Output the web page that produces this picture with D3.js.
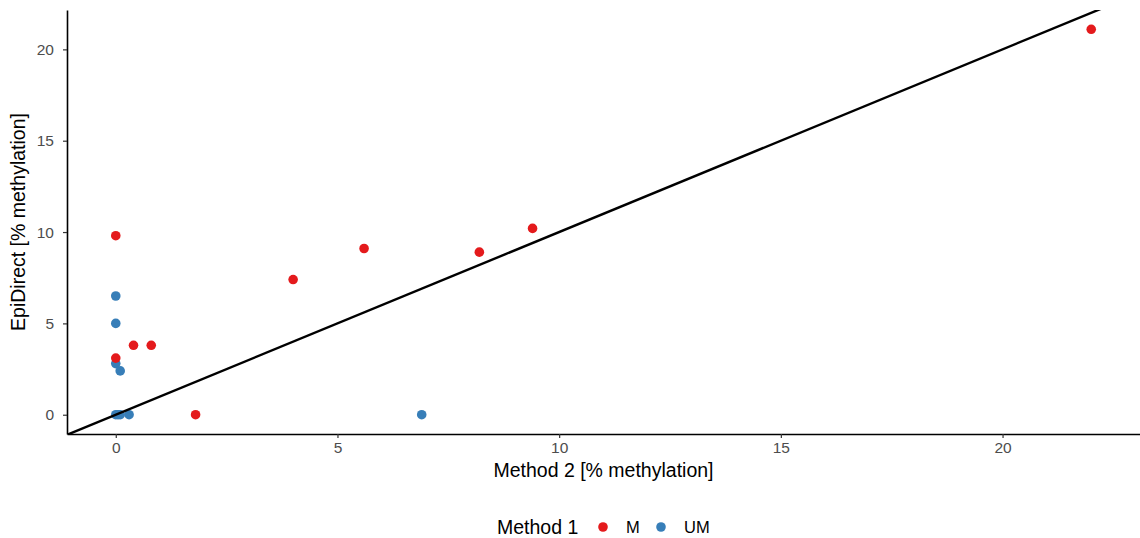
<!DOCTYPE html>
<html>
<head>
<meta charset="utf-8">
<script src="https://cdn.jsdelivr.net/npm/d3@7"></script>
<style>
  body { margin: 0; background: #fff; }
  svg text { font-family: "Liberation Sans", Arial, sans-serif; }
</style>
</head>
<body>
<div id="plot"></div>
<script>
// values
const groups = ["M", "UM"];
const groupColors = ["#E41A1C", "#377EB8"];

const umMethod2 = [0, 0, 0, 0.1, 0, 0.05, 0.1, 0.3, 6.9];
const umEpi     = [6.5, 5.0, 2.8, 2.4, 0, 0, 0, 0, 0];

const mMethod2 = [22, 9.4, 8.2, 5.6, 4.0, 0.8, 0.4, 0, 0, 1.8];
const mEpi     = [21.1, 10.2, 8.9, 9.1, 7.4, 3.8, 3.8, 3.1, 9.8, 0];

const xTicks = [0, 5, 10, 15, 20];
const yTicks = [0, 5, 10, 15, 20];

const width = 1140, height = 538;
const margin = {top: 10, right: 0, bottom: 104, left: 67};

const points = [];
umMethod2.forEach((v, i) => points.push({group: "UM", x: v, y: umEpi[i]}));
mMethod2.forEach((v, i) => points.push({group: "M", x: v, y: mEpi[i]}));

const color = d3.scaleOrdinal().domain(groups).range(groupColors);

// ggplot-like 5% expansion
const xExt = d3.extent(points, d => d.x), yExt = d3.extent(points, d => d.y);
const xPad = (xExt[1] - xExt[0]) * 0.05, yPad = (yExt[1] - yExt[0]) * 0.05;

const x = d3.scaleLinear()
    .domain([xExt[0] - xPad, xExt[1] + xPad])
    .range([margin.left, width - margin.right]);
const y = d3.scaleLinear()
    .domain([yExt[0] - yPad, yExt[1] + yPad])
    .range([height - margin.bottom, margin.top]);

const svg = d3.select("#plot").append("svg")
    .attr("width", width)
    .attr("height", height);

svg.append("defs").append("clipPath").attr("id", "panel")
  .append("rect")
    .attr("x", margin.left).attr("y", margin.top)
    .attr("width", width - margin.left - margin.right)
    .attr("height", height - margin.top - margin.bottom);

// points
svg.append("g")
  .selectAll("circle")
  .data(points)
  .enter().append("circle")
    .attr("cx", d => x(d.x))
    .attr("cy", d => y(d.y))
    .attr("r", 4.8)
    .attr("fill", d => color(d.group));

// identity line y = x
const lo = Math.min(x.domain()[0], y.domain()[0]), hi = Math.max(x.domain()[1], y.domain()[1]);
svg.append("line")
    .attr("clip-path", "url(#panel)")
    .attr("x1", x(lo)).attr("y1", y(lo))
    .attr("x2", x(hi)).attr("y2", y(hi))
    .attr("stroke", "#000")
    .attr("stroke-width", 2.4);

// axes
const xAxis = svg.append("g")
    .attr("transform", "translate(0," + (height - margin.bottom) + ")")
    .call(d3.axisBottom(x).tickValues(xTicks).tickSize(4).tickPadding(4).tickSizeOuter(0));
const yAxis = svg.append("g")
    .attr("transform", "translate(" + margin.left + ",0)")
    .call(d3.axisLeft(y).tickValues(yTicks).tickSize(4).tickPadding(9).tickSizeOuter(0));

[xAxis, yAxis].forEach(a => {
  a.select(".domain").attr("stroke", "#000").attr("stroke-width", 1.6);
  a.selectAll(".tick line").attr("stroke", "#333").attr("stroke-width", 1.2);
  a.selectAll(".tick text").attr("fill", "#4d4d4d").style("font-size", "15.5px");
});

// axis titles
svg.append("text")
    .attr("x", (margin.left + width - margin.right) / 2)
    .attr("y", 477)
    .attr("text-anchor", "middle")
    .style("font-size", "19.5px")
    .text("Method 2 [% methylation]");

svg.append("text")
    .attr("transform", "translate(25," + ((margin.top + height - margin.bottom) / 2) + ") rotate(-90)")
    .attr("text-anchor", "middle")
    .style("font-size", "19.5px")
    .text("EpiDirect [% methylation]");

// legend
const legend = svg.append("g").attr("transform", "translate(0,527)");
legend.append("text")
    .attr("x", 497).attr("y", 6.5)
    .style("font-size", "19.5px")
    .text("Method 1");
const legendX = [603, 661];
groups.forEach((g, i) => {
  legend.append("circle")
      .attr("cx", legendX[i]).attr("cy", 0)
      .attr("r", 4.8)
      .attr("fill", color(g));
  legend.append("text")
      .attr("x", legendX[i] + 23).attr("y", 6)
      .style("font-size", "16.5px")
      .text(g);
});
</script>
</body>
</html>
